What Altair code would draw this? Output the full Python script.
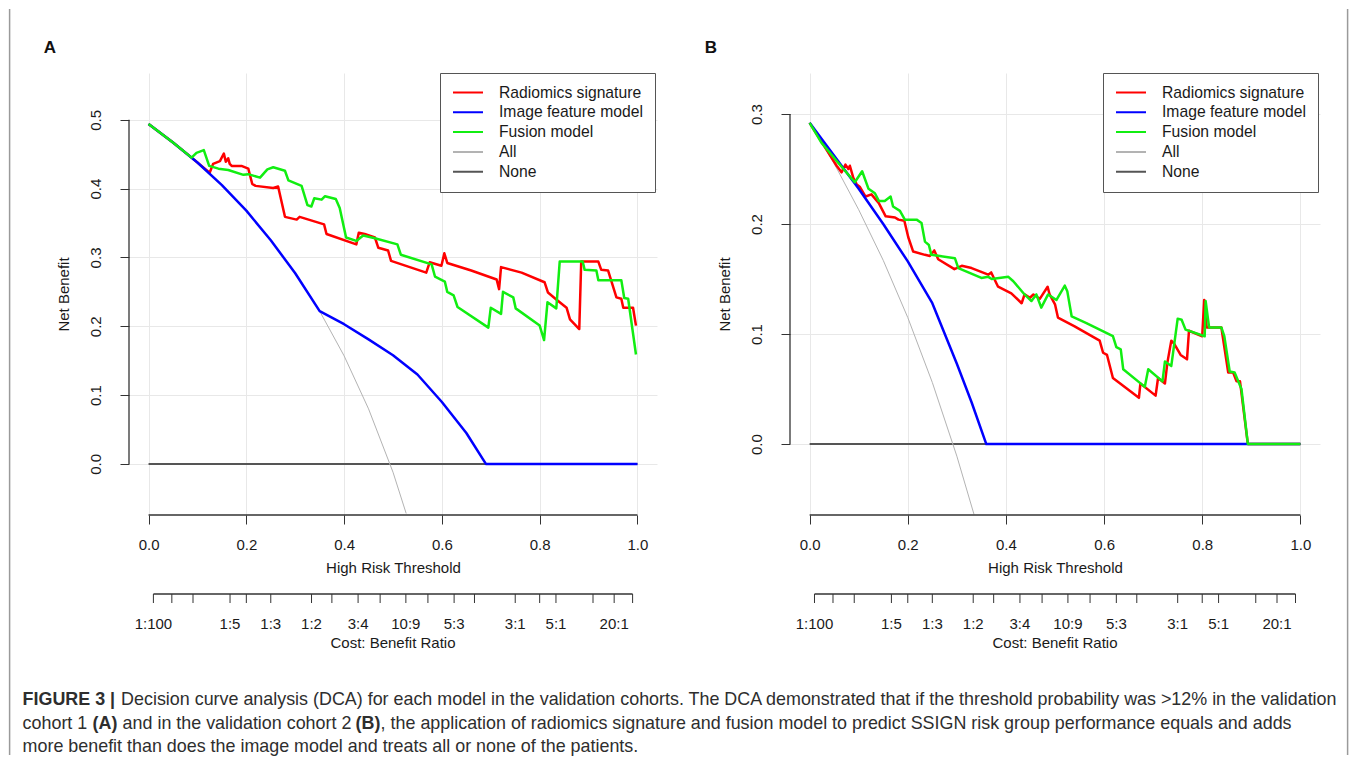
import altair as alt
import pandas as pd

FONT = "Liberation Sans"
TXT = "#1a1a1a"

SERIES = ["Radiomics signature", "Image feature model", "Fusion model", "All", "None"]
SERIES_COLORS = ["#ff0000", "#0000ff", "#11ee11", "#b3b3b3", "#555555"]

# ---------------- Panel A (validation cohort 1) ----------------
a_all_t = [0, 0.05, 0.1, 0.15, 0.2, 0.25, 0.3, 0.35, 0.4, 0.45, 0.5, 0.527]
a_all_v = [0.494, 0.467, 0.438, 0.405, 0.368, 0.325, 0.277, 0.222, 0.157, 0.080, -0.012, -0.072]

a_img_t = [0, 0.05, 0.1, 0.15, 0.2, 0.25, 0.3, 0.35, 0.4, 0.45, 0.5, 0.55, 0.6, 0.65, 0.69, 1.0]
a_img_v = [0.494, 0.467, 0.438, 0.405, 0.368, 0.325, 0.277, 0.222, 0.203, 0.181, 0.158, 0.13, 0.09, 0.045, 0.0, 0.0]

a_rad_t = [0, 0.05, 0.088, 0.125, 0.132, 0.146, 0.154, 0.158, 0.163, 0.166, 0.170, 0.190, 0.204,
           0.212, 0.219, 0.255, 0.265, 0.279, 0.303, 0.309, 0.359, 0.364, 0.425, 0.430, 0.442,
           0.463, 0.470, 0.490, 0.496, 0.568, 0.575, 0.599, 0.605, 0.611, 0.660, 0.712, 0.717,
           0.721, 0.763, 0.810, 0.817, 0.834, 0.855, 0.862, 0.881, 0.885, 0.920, 0.926, 0.940,
           0.957, 0.967, 0.971, 0.991, 0.997]
a_rad_v = [0.494, 0.467, 0.445, 0.423, 0.436, 0.440, 0.451, 0.439, 0.444, 0.436, 0.433, 0.433, 0.429,
           0.407, 0.404, 0.401, 0.403, 0.359, 0.355, 0.359, 0.348, 0.334, 0.319, 0.336, 0.334,
           0.329, 0.314, 0.310, 0.295, 0.278, 0.293, 0.288, 0.306, 0.292, 0.281, 0.268, 0.254,
           0.286, 0.278, 0.264, 0.249, 0.239, 0.227, 0.210, 0.196, 0.294, 0.294, 0.282, 0.281,
           0.242, 0.240, 0.227, 0.227, 0.201]

a_fus_t = [0, 0.05, 0.088, 0.098, 0.113, 0.124, 0.143, 0.163, 0.194, 0.204, 0.228, 0.243, 0.255,
           0.279, 0.286, 0.313, 0.325, 0.333, 0.339, 0.354, 0.361, 0.383, 0.391, 0.404, 0.425,
           0.439, 0.463, 0.509, 0.516, 0.579, 0.586, 0.606, 0.611, 0.624, 0.632, 0.695, 0.700,
           0.721, 0.725, 0.746, 0.751, 0.800, 0.809, 0.816, 0.834, 0.841, 0.888, 0.892, 0.916,
           0.920, 0.967, 0.973, 0.981, 0.997]
a_fus_v = [0.494, 0.467, 0.445, 0.452, 0.456, 0.433, 0.429, 0.427, 0.420, 0.421, 0.416, 0.428, 0.431,
           0.426, 0.412, 0.404, 0.376, 0.374, 0.386, 0.384, 0.389, 0.385, 0.372, 0.329, 0.324,
           0.332, 0.328, 0.319, 0.304, 0.290, 0.272, 0.265, 0.250, 0.245, 0.228, 0.198, 0.227,
           0.218, 0.250, 0.242, 0.226, 0.201, 0.180, 0.235, 0.226, 0.294, 0.294, 0.282, 0.281,
           0.267, 0.267, 0.241, 0.240, 0.159]

# ---------------- Panel B (validation cohort 2) ----------------
b_all_t = [0, 0.05, 0.1, 0.15, 0.2, 0.25, 0.3, 0.335]
b_all_v = [0.292, 0.255, 0.213, 0.167, 0.115, 0.056, -0.011, -0.064]

b_img_t = [0, 0.05, 0.1, 0.15, 0.2, 0.25, 0.3, 0.33, 0.36, 1.0]
b_img_v = [0.292, 0.262, 0.232, 0.200, 0.166, 0.128, 0.073, 0.038, 0.0, 0.0]

b_rad_t = [0, 0.055, 0.065, 0.073, 0.079, 0.082, 0.089, 0.096, 0.102, 0.114, 0.126, 0.141, 0.155,
           0.174, 0.181, 0.193, 0.201, 0.211, 0.235, 0.245, 0.254, 0.262, 0.295, 0.310, 0.330,
           0.364, 0.370, 0.384, 0.411, 0.432, 0.438, 0.449, 0.456, 0.469, 0.485, 0.489, 0.500,
           0.506, 0.540, 0.591, 0.598, 0.606, 0.618, 0.671, 0.674, 0.705, 0.710, 0.724, 0.729,
           0.737, 0.743, 0.756, 0.769, 0.773, 0.800, 0.804, 0.809, 0.839, 0.853, 0.863, 0.870,
           0.877, 0.893, 1.0]
b_rad_v = [0.292, 0.253, 0.247, 0.254, 0.250, 0.253, 0.242, 0.236, 0.234, 0.225, 0.227, 0.219, 0.207,
           0.206, 0.204, 0.203, 0.188, 0.175, 0.172, 0.171, 0.176, 0.168, 0.159, 0.162, 0.160,
           0.154, 0.156, 0.143, 0.137, 0.128, 0.136, 0.133, 0.136, 0.132, 0.143, 0.136, 0.127,
           0.115, 0.107, 0.094, 0.083, 0.081, 0.060, 0.042, 0.055, 0.044, 0.060, 0.055, 0.074,
           0.094, 0.091, 0.081, 0.077, 0.103, 0.098, 0.131, 0.106, 0.106, 0.065, 0.065, 0.057,
           0.057, 0.0, 0.0]

b_fus_t = [0, 0.024, 0.052, 0.092, 0.107, 0.120, 0.133, 0.141, 0.153, 0.165, 0.170, 0.184, 0.194,
           0.218, 0.228, 0.235, 0.243, 0.248, 0.296, 0.303, 0.350, 0.364, 0.371, 0.405, 0.415,
           0.438, 0.452, 0.462, 0.472, 0.486, 0.503, 0.520, 0.525, 0.534, 0.564, 0.618, 0.625,
           0.634, 0.639, 0.683, 0.690, 0.719, 0.724, 0.737, 0.750, 0.758, 0.766, 0.805, 0.807,
           0.814, 0.839, 0.845, 0.856, 0.866, 0.880, 0.893, 1.0]
b_fus_v = [0.292, 0.274, 0.259, 0.238, 0.248, 0.232, 0.228, 0.221, 0.221, 0.225, 0.216, 0.212, 0.204,
           0.204, 0.201, 0.184, 0.181, 0.172, 0.169, 0.160, 0.151, 0.152, 0.150, 0.152, 0.148,
           0.136, 0.130, 0.136, 0.124, 0.136, 0.131, 0.144, 0.139, 0.116, 0.110, 0.098, 0.088,
           0.086, 0.068, 0.052, 0.068, 0.057, 0.075, 0.071, 0.114, 0.113, 0.104, 0.098, 0.130,
           0.106, 0.106, 0.098, 0.066, 0.065, 0.050, 0.0, 0.0]

none_t = [0.0, 1.0]
none_v = [0.0, 0.0]

x_ticks = [0, 0.2, 0.4, 0.6, 0.8, 1.0]
a_y_ticks = [0, 0.1, 0.2, 0.3, 0.4, 0.5]
b_y_ticks = [0, 0.1, 0.2, 0.3]

# cost:benefit ratio axis (ticks and which ones carry a label)
cb_cost = [1, 1, 1, 1, 1, 1, 1, 3, 3, 9, 10, 4, 5, 2, 3, 4, 5, 10, 20, 100]
cb_benefit = [100, 20, 10, 5, 4, 3, 2, 5, 4, 10, 9, 3, 3, 1, 1, 1, 1, 1, 1, 1]
cb_labeled = [1, 0, 0, 1, 0, 1, 1, 0, 1, 0, 1, 0, 1, 0, 1, 0, 1, 0, 1, 0]

CAPTION_1B = "FIGURE 3 |"
CAPTION_1 = ("Decision curve analysis (DCA) for each model in the validation cohorts. The DCA "
             "demonstrated that if the threshold probability was >12% in the validation")
CAPTION_2 = ["cohort 1", "(A)", "and in the validation cohort 2", "(B)",
             ", the application of radiomics signature and fusion model to predict SSIGN risk "
             "group performance equals and adds"]
CAPTION_3 = "more benefit than does the image model and treats all or none of the patients."

H = 442
CB_LINE_Y = 521
CAP_SIZE = 17.9
dummy = pd.DataFrame({"k": [0]})


def series_df(name, t, v):
    return pd.DataFrame({"t": t, "v": v, "series": name, "i": list(range(len(t)))})


def cb_df():
    d = pd.DataFrame({"c": cb_cost, "b": cb_benefit, "show": cb_labeled})
    d["t"] = d["c"] / (d["c"] + d["b"])
    d["label"] = d["c"].astype(str) + ":" + d["b"].astype(str)
    return d


def panel(width, ydom, yticks, data, legend_x, letter, extra):
    xs = alt.Scale(domain=[-0.04, 1.04], nice=False, zero=False)
    ys = alt.Scale(domain=ydom, nice=False, zero=False)
    cs = alt.Scale(domain=SERIES, range=SERIES_COLORS)
    xa = alt.Axis(values=x_ticks, format=".1f", title="High Risk Threshold", domain=False,
                  grid=True, gridColor="#e8e8e8", gridWidth=1, tickSize=9, tickColor="#333",
                  tickWidth=1, labelFont=FONT, labelFontSize=15, labelColor=TXT, labelPadding=13,
                  labelFlush=False, labelOverlap=False, titleFont=FONT, titleFontSize=15,
                  titleFontWeight="normal", titleColor=TXT, titleX=width / 2, titleY=57,
                  titleBaseline="alphabetic", titleAlign="center")
    ya = alt.Axis(values=yticks, format=".1f", title="Net Benefit", domain=False, grid=True,
                  gridColor="#e8e8e8", gridWidth=1, tickSize=9, tickColor="#333", tickWidth=1,
                  labelFont=FONT, labelFontSize=15, labelColor=TXT, labelAngle=270,
                  labelAlign="center", labelBaseline="alphabetic", labelPadding=19.5,
                  labelFlush=False, labelOverlap=False, titleFont=FONT, titleFontSize=15,
                  titleFontWeight="normal", titleColor=TXT, titleAngle=270, titleX=-61,
                  titleY=H / 2, titleBaseline="alphabetic", titleAlign="center")
    lg = alt.Legend(orient="none", legendX=legend_x, legendY=0, title=None, symbolType="stroke",
                    symbolSize=900, symbolStrokeWidth=2, clipHeight=15, rowPadding=2.8,
                    labelFont=FONT, labelFontSize=15.7, labelColor=TXT, labelOffset=15,
                    padding=12, strokeColor="#555", fillColor="white", symbolLimit=0)

    X = lambda f="t": alt.X(f"{f}:Q", scale=xs, axis=xa)
    Y = lambda f="v": alt.Y(f"{f}:Q", scale=ys, axis=ya)

    layers = []
    widths = {"None": 2, "All": 1, "Radiomics signature": 2.5,
              "Image feature model": 2.5, "Fusion model": 2.5}
    for name in ["None", "All", "Radiomics signature", "Image feature model", "Fusion model"]:
        t, v = data[name]
        layers.append(
            alt.Chart(series_df(name, t, v)).mark_line(strokeWidth=widths[name], strokeJoin="round")
            .encode(x=X(), y=Y(), color=alt.Color("series:N", scale=cs, legend=lg),
                    order=alt.Order("i:Q"))
        )
    # axis lines spanning only the labelled range (R style)
    layers.append(
        alt.Chart(pd.DataFrame({"t": [0.0], "t2": [1.0]})).mark_rule(color="#333", strokeWidth=1.3)
        .encode(x=X(), x2="t2:Q", y=alt.value(H))
    )
    layers.append(
        alt.Chart(pd.DataFrame({"v": [yticks[0]], "v2": [yticks[-1]]})).mark_rule(color="#333", strokeWidth=1.3)
        .encode(y=Y(), y2="v2:Q", x=alt.value(0))
    )
    # cost:benefit ratio axis
    cb = cb_df()
    layers.append(
        alt.Chart(pd.DataFrame({"t": [cb["t"].min()], "t2": [cb["t"].max()]}))
        .mark_rule(color="#333", strokeWidth=1.3)
        .encode(x=X(), x2="t2:Q", y=alt.value(CB_LINE_Y))
    )
    layers.append(
        alt.Chart(cb).mark_rule(color="#333", strokeWidth=1)
        .encode(x=X(), y=alt.value(CB_LINE_Y), y2=alt.value(CB_LINE_Y + 9))
    )
    layers.append(
        alt.Chart(cb[cb["show"] == 1]).mark_text(font=FONT, fontSize=15, color=TXT,
                                                 baseline="alphabetic", align="center")
        .encode(x=X(), y=alt.value(CB_LINE_Y + 35), text="label:N")
    )
    layers.append(
        alt.Chart(pd.DataFrame({"t": [0.5]})).mark_text(font=FONT, fontSize=15, color=TXT,
                                                        baseline="alphabetic", align="center",
                                                        text="Cost: Benefit Ratio")
        .encode(x=X(), y=alt.value(CB_LINE_Y + 54))
    )
    # panel letter
    layers.append(
        alt.Chart(dummy).mark_text(font=FONT, fontSize=17, fontWeight="bold", color="#111",
                                   baseline="alphabetic", align="center", text=letter)
        .encode(x=alt.value(-79), y=alt.value(-20))
    )
    layers += extra
    return alt.layer(*layers).properties(width=width, height=H)


def cap(text, x, y, bold=False):
    return alt.Chart(dummy).mark_text(font=FONT, fontSize=CAP_SIZE,
                                      fontWeight="bold" if bold else "normal",
                                      color="#2e2e2e", baseline="alphabetic", align="left", text=text) \
        .encode(x=alt.value(x), y=alt.value(y))


OX = 127.4  # panel A plot origin (page coordinates of the reference)
OY = 72.0
extra_a = [
    alt.Chart(dummy).mark_rule(color="#9a9a9a", strokeWidth=1.5)
    .encode(x=alt.value(8 - OX), y=alt.value(8 - OY), y2=alt.value(754 - OY)),
    alt.Chart(dummy).mark_rule(color="#9a9a9a", strokeWidth=1.5)
    .encode(x=alt.value(1346 - OX), y=alt.value(8 - OY), y2=alt.value(754 - OY)),
    cap(CAPTION_1B, 21 - OX, 703.5 - OY, True),
    cap(CAPTION_1, 119.5 - OX, 703.5 - OY),
    cap(CAPTION_2[0], 21 - OX, 727.5 - OY),
    cap(CAPTION_2[1], 91 - OX, 727.5 - OY, True),
    cap(CAPTION_2[2], 121 - OX, 727.5 - OY),
    cap(CAPTION_2[3], 354 - OX, 727.5 - OY, True),
    cap(CAPTION_2[4], 379 - OX, 727.5 - OY),
    cap(CAPTION_3, 21 - OX, 750.5 - OY),
]

data_a = {"None": (none_t, none_v), "All": (a_all_t, a_all_v),
          "Radiomics signature": (a_rad_t, a_rad_v), "Image feature model": (a_img_t, a_img_v),
          "Fusion model": (a_fus_t, a_fus_v)}
data_b = {"None": (none_t, none_v), "All": (b_all_t, b_all_v),
          "Radiomics signature": (b_rad_t, b_rad_v), "Image feature model": (b_img_t, b_img_v),
          "Fusion model": (b_fus_t, b_fus_v)}

pa = panel(528, [-0.0742, 0.568], a_y_ticks, data_a, 311, "A", extra_a)
pb = panel(530, [-0.0645, 0.3373], b_y_ticks, data_b, 313, "B", [])

chart = alt.hconcat(pa, pb, spacing=133, bounds="flush").resolve_scale(
    x="independent", y="independent", color="independent"
).resolve_legend(color="independent").properties(
    padding=0, background="white"
).configure_view(stroke=None)

chart.save("out.html", embed_options={"renderer": "svg", "actions": False})
